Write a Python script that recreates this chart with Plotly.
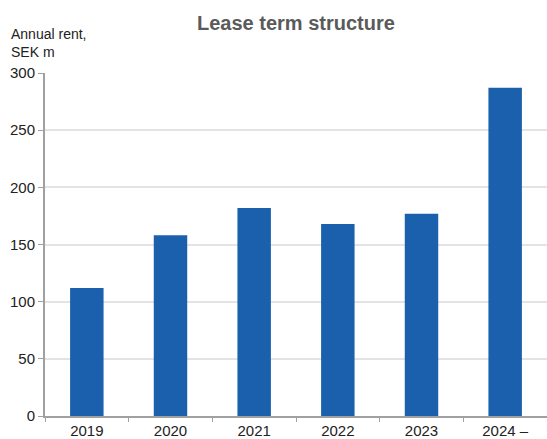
import plotly.graph_objects as go

# Annual rent by year of lease expiry, SEK m
years = ["2019", "2020", "2021", "2022", "2023", "2024 –"]
annual_rent = [112, 158, 182, 168, 177, 287]
y_ticks = [0, 50, 100, 150, 200, 250, 300]

W, H = 547, 439
L, R, T, B = 45, 0, 73, 23
plot_h = H - T - B
plot_w = W - L - R

fig = go.Figure(
    go.Bar(
        x=years,
        y=annual_rent,
        width=0.4,
        marker=dict(color="#1a60ac", line=dict(width=0)),
        hoverinfo="x+y",
    )
)

font_family = "Liberation Sans, Arial, sans-serif"

fig.update_layout(
    width=W,
    height=H,
    margin=dict(l=L, r=R, t=T, b=B),
    paper_bgcolor="white",
    plot_bgcolor="white",
    showlegend=False,
    bargap=0.6,
    font=dict(family=font_family, size=15, color="#222222"),
    xaxis=dict(
        type="category",
        range=[-0.5, 5.5],
        showline=True,
        linecolor="#a0a0a0",
        linewidth=2,
        ticks="outside",
        tickson="boundaries",
        ticklen=4,
        tickcolor="#a0a0a0",
        tickwidth=1,
        showgrid=False,
        tickfont=dict(size=15, color="#222222"),
    ),
    yaxis=dict(
        range=[0, 300],
        tickvals=y_ticks,
        showline=True,
        linecolor="#a0a0a0",
        linewidth=2,
        ticks="outside",
        ticklen=5,
        tickcolor="#a0a0a0",
        tickwidth=1,
        showgrid=True,
        gridcolor="#e3e3e3",
        gridwidth=1.5,
        zeroline=False,
        tickfont=dict(size=15, color="#222222"),
    ),
    annotations=[
        dict(
            text="<b>Lease term structure</b>",
            xref="paper", yref="paper",
            x=0.5, y=1 + (T - 10) / plot_h,
            xanchor="center", yanchor="top",
            showarrow=False,
            font=dict(family=font_family, size=20, color="#5a5a5a"),
        ),
        dict(
            text="Annual rent,<br>SEK m",
            xref="paper", yref="paper",
            x=(9 - L) / plot_w, y=1 + (T - 24) / plot_h,
            xanchor="left", yanchor="top", align="left",
            showarrow=False,
            font=dict(family=font_family, size=14, color="#222222"),
        ),
    ],
)

fig.write_html("out.html")
